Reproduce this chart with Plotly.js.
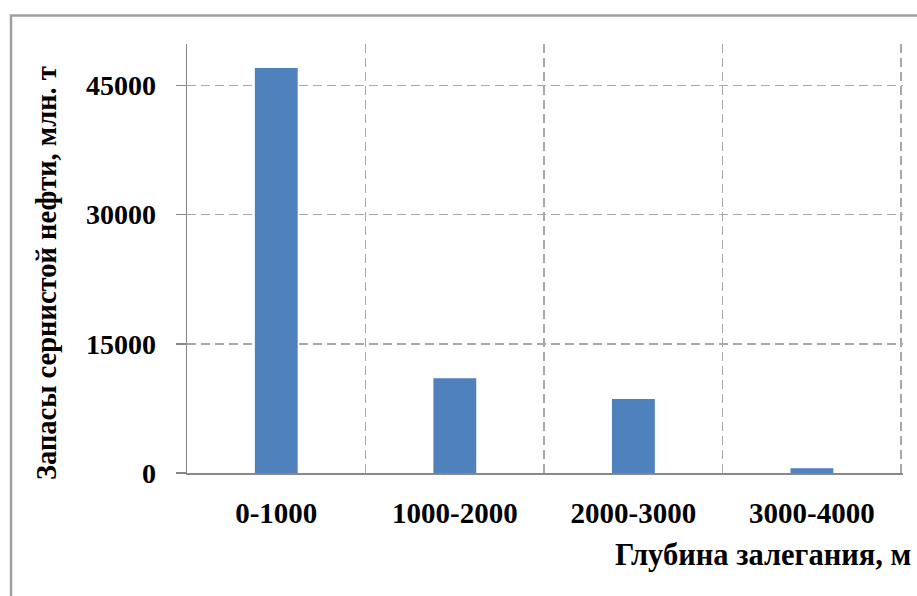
<!DOCTYPE html>
<html>
<head>
<meta charset="utf-8">
<script src="https://cdn.plot.ly/plotly-3.0.1.min.js"></script>
<style>
html,body{margin:0;padding:0;background:#fff;}
#chart{width:917px;height:596px;}
</style>
</head>
<body>
<div id="chart"></div>
<script>
const categories = ["0-1000", "1000-2000", "2000-3000", "3000-4000"];
const reserves = [47000, 11000, 8600, 550];
const yTicks = [0, 15000, 30000, 45000];
const yTitle = "Запасы сернистой нефти, млн. т";
const xTitle = "Глубина залегания, м";

const font = {family: "Liberation Serif, Times New Roman, serif", color: "#000"};
const dash = "9px,5px";

const trace = {
  type: "bar",
  x: categories,
  y: reserves,
  marker: {color: "#4f81bd", line: {width: 0}},
  hoverinfo: "none"
};

const layout = {
  width: 917, height: 596,
  margin: {l: 187, r: 14, t: 44, b: 123},
  paper_bgcolor: "#fff",
  plot_bgcolor: "#fff",
  showlegend: false,
  bargap: 0.76,
  font: font,
  xaxis: {
    type: "category",
    range: [-0.5, 3.51],
    tickson: "boundaries",
    showgrid: true,
    gridcolor: "#a8a8a8",
    griddash: dash,
    gridwidth: 1.5,
    ticks: "",
    showline: true,
    linecolor: "#888",
    linewidth: 1.5,
    zeroline: false,
    ticklabelstandoff: 14,
    tickfont: {family: font.family, size: 29, color: "#000", weight: "bold"}
  },
  yaxis: {
    range: [0, 49800],
    tickvals: yTicks,
    ticktext: yTicks.map(String),
    showgrid: true,
    gridcolor: "#a8a8a8",
    griddash: dash,
    gridwidth: 1.5,
    ticks: "outside",
    ticklen: 10,
    tickcolor: "#888",
    tickwidth: 1.5,
    showline: true,
    linecolor: "#888",
    linewidth: 1.5,
    zeroline: false,
    ticklabelstandoff: 14,
    tickfont: {family: font.family, size: 28, color: "#000", weight: "bold"}
  },
  annotations: [
    {
      text: yTitle, xref: "paper", yref: "paper",
      x: -0.197, y: 0.466, xanchor: "center", yanchor: "middle",
      textangle: -90, showarrow: false,
      font: {family: font.family, size: 28.5, color: "#000", weight: "bold"}
    },
    {
      text: xTitle, xref: "paper", yref: "paper",
      x: 1.0145, y: -0.19, xanchor: "right", yanchor: "middle",
      showarrow: false,
      font: {family: font.family, size: 30.5, color: "#000", weight: "bold"}
    }
  ],
  shapes: [
    {
      type: "rect", xref: "paper", yref: "paper",
      x0: -0.2458, x1: 1.2, y0: -0.6, y1: 1.0665,
      line: {color: "#a0a0a0", width: 2.5},
      fillcolor: "rgba(0,0,0,0)", layer: "below"
    }
  ]
};

Plotly.newPlot("chart", [trace], layout, {staticPlot: true, displayModeBar: false});
</script>
</body>
</html>
